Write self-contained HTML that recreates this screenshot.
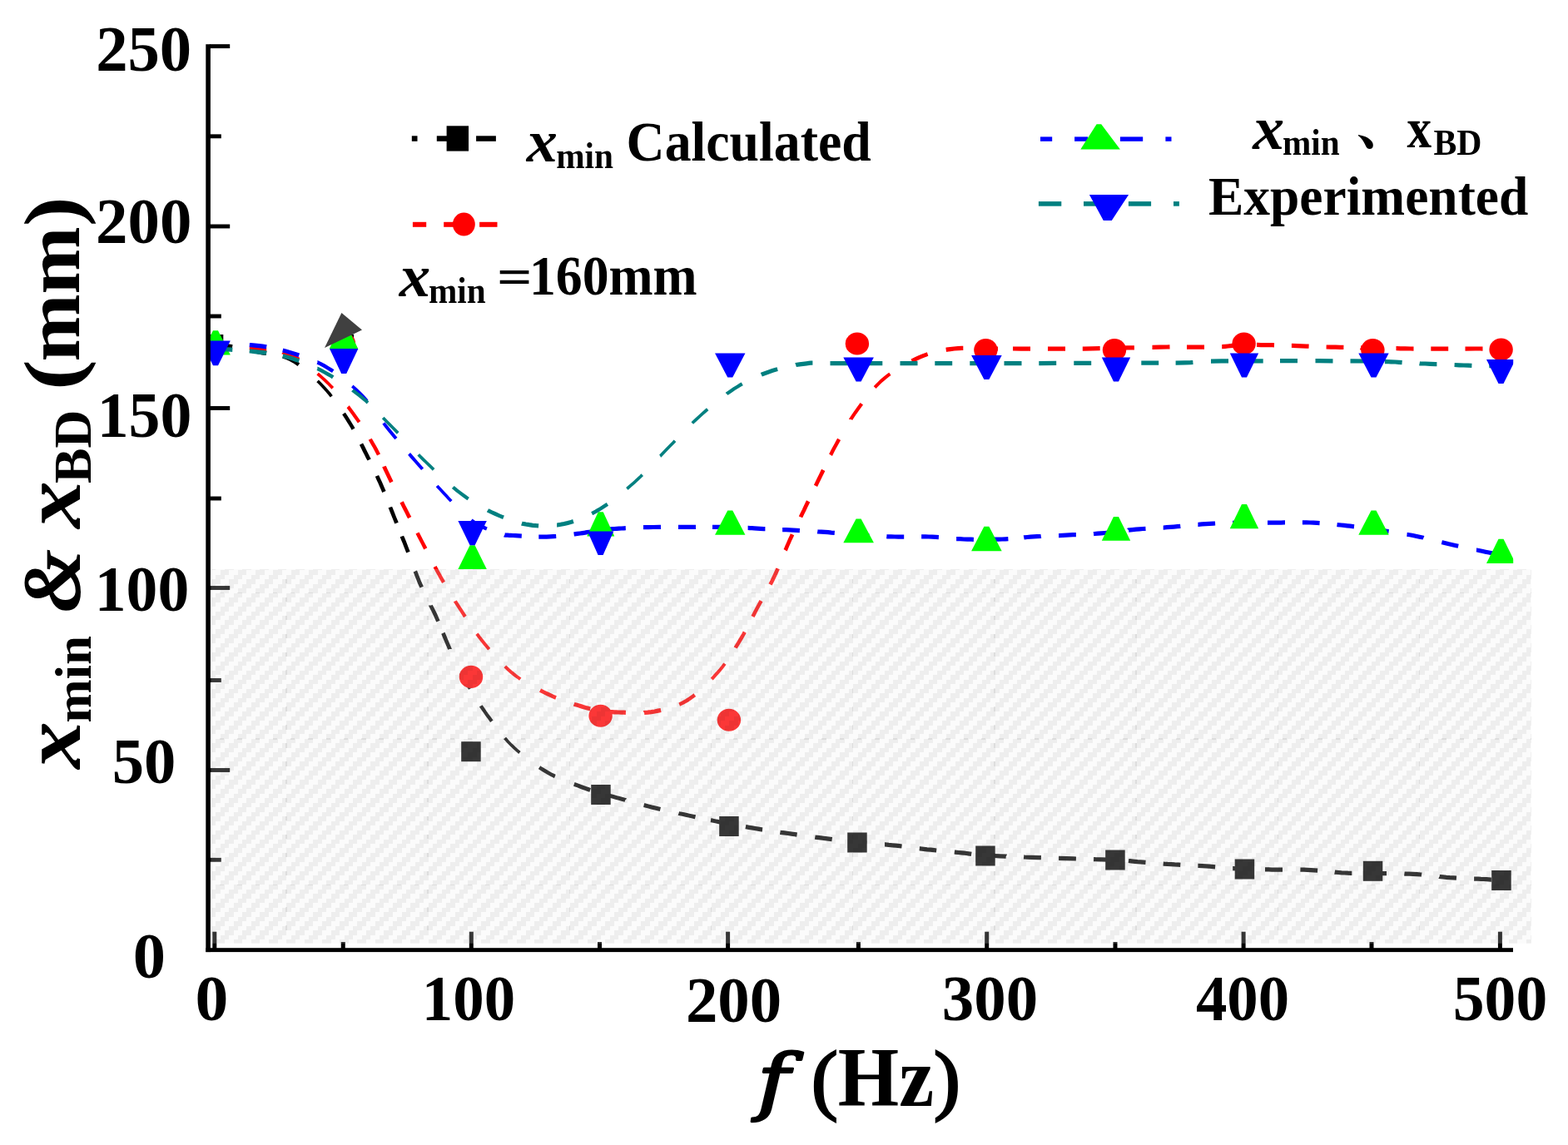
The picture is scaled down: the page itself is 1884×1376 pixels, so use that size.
<!DOCTYPE html>
<html lang="en"><head><meta charset="utf-8"><title>x min and x BD versus f</title>
<style>
html,body{margin:0;padding:0;background:#fff;}
body{width:1884px;height:1376px;overflow:hidden;}
svg{display:block;}
svg text{font-family:'Liberation Serif','Noto Serif CJK SC',serif;fill:#000;white-space:pre;}
</style></head><body>
<svg width="1884" height="1376" viewBox="0 0 1884 1376">
<rect width="1884" height="1376" fill="#fff"/>
<clipPath id="pc"><rect x="249" y="0" width="1569.2" height="1376"/></clipPath>
<g id="series" clip-path="url(#pc)">
<g fill="none" stroke="#000"><path d="M381.6,457.8L382.3,458.5L386.0,462.3L389.5,466.0L392.9,469.7L396.1,473.5L398.3,476.3M606.6,887.0L607.1,887.6L610.6,891.5L614.2,895.2L617.8,898.7L621.7,902.2L624.4,904.5" stroke-width="3.75"/><path d="M577.8,848.3L578.0,848.7L580.3,852.0L582.6,855.4L585.1,858.9L587.8,862.5L590.6,866.4L590.9,866.8" stroke-width="4.25"/><path d="M340.1,428.4L340.7,428.7L344.9,430.1L349.0,432.0L353.0,434.2L357.1,436.9L358.9,438.2M413.0,496.9L413.4,497.5L416.0,501.5L418.5,505.5L420.9,509.4L423.3,513.3L424.5,515.6M553.8,808.9L553.9,809.1L555.1,811.3L556.2,813.3L557.2,815.0L558.2,816.7L559.2,818.3L560.2,820.0L561.3,821.7L562.6,823.6L563.9,825.7L565.0,827.6M648.1,922.2L649.0,922.8L653.3,925.5L657.5,928.0L661.8,930.4L666.2,932.6L666.9,932.9" stroke-width="4.5"/><path d="M434.0,533.6L434.1,533.8L436.1,537.7L438.0,541.6L440.0,545.5L441.9,549.3L443.6,552.5M453.0,571.9L453.2,572.4L454.9,576.2L456.7,580.1L458.4,584.0L460.1,587.9L461.4,591.0M468.9,609.5L469.0,609.8L470.5,613.7L472.1,617.7L473.6,621.5L475.2,625.4L476.5,628.7M482.9,644.5L483.0,644.8L484.5,648.5L486.0,652.2L487.5,656.1L489.0,660.0L490.4,663.7M498.8,686.5L499.2,687.4L500.8,691.7L502.5,695.9L504.1,700.0L505.9,704.0L506.6,705.7M517.5,727.6L517.5,727.7L519.4,731.5L521.3,735.2L523.1,739.0L524.8,742.9L526.4,746.6M532.4,760.8L532.5,761.0L534.1,765.0L535.7,768.9L537.3,772.7L538.9,776.4L540.4,779.9L540.4,780.0" stroke-width="4.75"/><path d="M300.0,420.9L300.2,420.9L302.7,421.4L305.4,422.0L308.4,422.6L311.7,423.3L315.2,424.0L319.0,424.5L320.0,424.6M689.8,942.4L690.4,942.6L694.3,944.0L697.8,945.4L701.1,946.6L704.0,947.7L706.5,948.5L708.9,949.3L709.2,949.4M731.7,955.9L732.0,956.0L733.9,956.6L736.0,957.2L738.4,957.8L741.0,958.6L744.1,959.4L747.5,960.4L751.2,961.4L751.3,961.5M773.6,967.6L774.5,967.8L778.8,968.9L783.0,970.0L787.2,971.0L791.4,972.0L793.4,972.5M815.5,977.4L816.1,977.6L820.2,978.4L824.1,979.3L827.8,980.1L831.5,980.9L835.1,981.7L835.5,981.8M854.0,985.7L854.7,985.8L857.4,986.4L859.8,986.9L861.9,987.3L863.7,987.7L865.3,988.0L866.8,988.3L868.2,988.6L869.7,988.8L871.4,989.1L873.2,989.5L874.0,989.6" stroke-width="5"/><path d="M259.4,413.6L259.7,413.6L261.5,413.9L263.7,414.3L266.2,414.7L269.0,415.2L271.9,415.7L274.9,416.2L278.0,416.7L279.1,416.9M895.9,993.6L896.4,993.7L899.8,994.3L903.4,994.9L907.0,995.5L910.8,996.1L914.9,996.8L916.1,996.9M937.4,1000.2L938.0,1000.3L942.4,1000.9L946.8,1001.5L951.0,1002.1L955.2,1002.7L957.6,1003.1M979.3,1006.0L979.9,1006.1L984.0,1006.6L988.0,1007.1L992.0,1007.6L995.9,1008.1L999.7,1008.6M1020.8,1011.0L1020.9,1011.0L1024.9,1011.5L1029.0,1011.9L1033.2,1012.3L1037.5,1012.7L1041.2,1013.0M1063.0,1014.9L1063.5,1014.9L1067.9,1015.4L1072.3,1015.8L1076.6,1016.2L1080.9,1016.7L1083.5,1017.0M1104.8,1019.7L1105.7,1019.8L1109.8,1020.3L1113.9,1020.8L1118.1,1021.2L1122.3,1021.7L1125.2,1022.0M1146.8,1024.0L1147.7,1024.1L1151.6,1024.5L1155.3,1024.8L1158.6,1025.2L1161.3,1025.5L1163.6,1025.8L1165.5,1026.1L1167.2,1026.4M1188.1,1028.2L1188.1,1028.2L1194.3,1028.5L1201.2,1028.8L1208.7,1029.1L1208.9,1029.2M1230.1,1029.9L1231.2,1030.0L1239.6,1030.3L1247.9,1030.6L1250.9,1030.7M1272.1,1031.4L1272.3,1031.4L1281.0,1031.7L1289.9,1031.9L1292.9,1032.0M1314.1,1032.6L1315.8,1032.7L1323.7,1032.9L1330.9,1033.2L1334.9,1033.3M1356.0,1034.5L1356.0,1034.5L1357.7,1034.7L1359.4,1034.9L1361.4,1035.1L1363.8,1035.3L1366.8,1035.6L1370.2,1035.8L1373.8,1036.1L1376.5,1036.3M1397.7,1038.0L1398.7,1038.1L1402.9,1038.4L1407.1,1038.6L1411.4,1038.9L1415.8,1039.1L1418.3,1039.3M1439.4,1040.4L1439.8,1040.4L1444.3,1040.6L1448.9,1040.9L1453.4,1041.2L1458.0,1041.6L1460.1,1041.8M1481.2,1043.6L1482.1,1043.6L1486.5,1044.0L1490.8,1044.3L1495.0,1044.5L1499.0,1044.7L1501.8,1044.8M1520.0,1044.9L1520.8,1044.9L1524.4,1044.9L1528.1,1045.0L1532.0,1045.0L1536.0,1045.0L1540.1,1045.1L1541.0,1045.1M1562.4,1045.1L1562.4,1045.1L1566.6,1045.2L1570.9,1045.4L1575.0,1045.6L1579.2,1045.8L1583.1,1046.1M1603.7,1048.1L1604.2,1048.2L1608.2,1048.5L1612.1,1048.8L1615.9,1049.0L1619.6,1049.2L1623.0,1049.3L1624.3,1049.3M1645.0,1049.4L1646.0,1049.4L1650.0,1049.5L1654.4,1049.6L1659.0,1049.6L1663.9,1049.7L1666.0,1049.7M1687.4,1050.0L1688.2,1050.1L1693.1,1050.2L1697.9,1050.4L1702.4,1050.7L1706.8,1051.0L1708.1,1051.2M1729.5,1053.4L1729.7,1053.5L1733.8,1053.9L1737.9,1054.3L1742.0,1054.6L1746.3,1054.8L1750.0,1055.1M1771.1,1056.0L1772.1,1056.0L1776.0,1056.2L1779.5,1056.4L1782.8,1056.5L1785.8,1056.7L1788.7,1056.9L1791.3,1057.1L1791.9,1057.1" stroke-width="5.25"/></g>
<rect x="244.8" y="402.0" width="23.5" height="24" fill="#000"/>
<rect x="401.6" y="401.8" width="23.5" height="24" fill="#000"/>
<rect x="554.2" y="891.2" width="23.5" height="24" fill="#000"/>
<rect x="710.2" y="943.0" width="23.5" height="24" fill="#000"/>
<rect x="864.2" y="981.0" width="23.5" height="24" fill="#000"/>
<rect x="1018.2" y="1000.5" width="23.5" height="24" fill="#000"/>
<rect x="1172.2" y="1016.5" width="23.5" height="24" fill="#000"/>
<rect x="1328.2" y="1021.5" width="23.5" height="24" fill="#000"/>
<rect x="1483.7" y="1032.5" width="23.5" height="24" fill="#000"/>
<rect x="1637.8" y="1034.8" width="23.5" height="24" fill="#000"/>
<rect x="1792.2" y="1046.0" width="23.5" height="24" fill="#000"/>
<g fill="none" stroke="#f00"><path d="M381.6,449.1L382.1,449.5L386.2,453.1L390.1,456.7L393.9,460.3L397.5,464.0L399.8,466.4" stroke-width="3.75"/><path d="M572.9,761.7L573.6,762.6L576.6,766.6L579.7,770.5L582.9,774.5L586.3,778.5L587.7,780.2M606.8,800.9L607.3,801.4L611.1,805.0L615.0,808.4L619.0,811.6L623.0,814.5L625.2,816.1M855.2,816.1L855.3,816.0L858.8,812.2L862.2,808.4L865.4,804.7L868.5,800.9L870.9,797.6M1051.2,465.6L1052.0,464.7L1055.5,461.1L1059.1,457.6L1062.9,454.4L1066.9,451.2L1069.4,449.4" stroke-width="4"/><path d="M418.1,488.8L418.3,489.0L421.3,493.0L424.3,497.0L427.1,500.9L429.9,504.9L431.6,507.3M546.8,722.4L547.0,722.8L549.4,726.4L551.8,730.1L554.3,733.9L556.8,737.8L558.9,741.0M1022.3,503.9L1022.3,503.8L1024.9,499.9L1027.6,495.9L1030.4,492.1L1033.3,488.1L1035.3,485.3" stroke-width="4.25"/><path d="M444.7,527.7L445.0,528.3L447.2,532.2L449.5,536.0L451.6,539.9L453.6,543.8L455.0,546.5M501.5,640.5L501.9,641.3L503.9,645.1L505.9,649.0L508.0,653.0L510.1,657.1L511.3,659.4M522.6,681.0L523.1,682.0L525.4,686.3L527.7,690.4L529.9,694.5L532.2,698.4L533.0,699.8M816.2,846.6L816.9,846.3L821.0,844.3L825.0,842.0L829.0,839.4L833.0,836.5L834.8,835.1M883.7,778.4L883.9,778.0L886.4,774.0L888.8,770.0L891.2,766.0L893.5,762.0L894.8,759.6M904.5,741.0L905.0,740.0L907.0,736.1L909.0,732.3L911.0,728.5L913.0,724.9L914.5,722.1M998.0,546.7L998.5,545.9L1000.4,542.1L1002.4,538.3L1004.5,534.5L1006.6,530.6L1008.1,527.9" stroke-width="4.5"/><path d="M340.0,423.2L340.1,423.3L344.0,424.5L348.0,426.1L352.1,428.0L356.3,430.4L359.0,432.0M461.5,560.4L461.7,561.0L463.5,564.9L465.3,568.7L467.1,572.6L469.0,576.5L470.4,579.4M482.5,603.3L483.0,604.2L485.0,608.2L487.0,612.1L489.0,616.0L490.9,619.8L492.2,622.2M649.0,829.6L649.6,829.9L653.8,832.0L658.0,834.0L662.1,835.9L666.3,837.8L668.0,838.4M925.5,702.4L925.8,701.9L927.7,698.3L929.5,694.5L931.4,690.5L933.3,686.3L934.6,683.4M943.6,661.3L943.9,660.8L945.7,656.4L947.6,652.1L949.4,647.9L951.3,643.9L952.0,642.3M962.0,621.4L962.3,620.7L964.2,616.8L966.1,613.0L967.9,609.0L969.8,605.1L971.1,602.4M980.0,583.9L980.3,583.3L982.2,579.3L984.1,575.4L986.0,571.5L987.9,567.6L989.2,564.9M1095.4,433.7L1095.7,433.6L1100.2,431.5L1104.5,429.5L1108.7,427.8L1112.8,426.2L1114.6,425.6" stroke-width="4.75"/><path d="M689.7,846.1L690.2,846.3L693.9,847.4L697.4,848.5L700.5,849.5L703.4,850.3L706.0,851.0L708.3,851.6L709.3,851.8" stroke-width="5"/><path d="M259.2,415.0L259.7,415.1L263.0,415.3L267.2,415.6L270.8,415.8M299.8,417.9L301.1,418.0L306.4,418.6L311.1,419.1L315.5,419.6L319.7,420.1L320.2,420.1M731.1,855.3L731.5,855.3L733.5,855.5L735.6,855.6L737.9,855.8L740.4,855.9L743.2,856.0L746.4,856.1L749.8,856.2L751.9,856.3M773.9,856.6L774.1,856.5L778.3,856.2L782.5,855.7L786.6,855.0L790.7,854.2L794.1,853.5M1136.7,420.3L1137.4,420.2L1141.8,419.6L1146.5,419.0L1151.2,418.6L1155.7,418.3L1157.3,418.3M1178.0,418.6L1178.8,418.6L1184.6,418.8L1191.0,418.9L1198.1,419.0L1199.0,419.0M1217.0,419.0L1217.0,419.0L1226.6,419.1L1236.7,419.1L1238.0,419.1M1259.0,419.1L1260.5,419.1L1271.2,419.1L1280.0,419.1M1300.8,419.0L1302.5,419.0L1312.8,418.8L1321.7,418.7M1342.1,418.2L1344.6,418.2L1355.1,417.9L1362.9,417.8M1384.5,417.3L1384.9,417.3L1393.8,417.1L1402.0,417.0L1405.5,416.9M1426.0,417.0L1426.5,417.0L1432.6,417.0L1438.3,417.1L1443.8,417.1L1447.0,417.1M1468.2,416.6L1468.4,416.6L1472.0,416.3L1475.3,416.0L1478.4,415.7L1481.5,415.4L1484.6,415.1L1487.8,414.8L1488.8,414.8M1510.0,414.4L1510.7,414.4L1515.1,414.5L1519.7,414.5L1524.3,414.6L1529.0,414.7L1531.0,414.8M1551.9,415.4L1553.0,415.4L1558.5,415.6L1564.1,415.9L1569.7,416.1L1572.6,416.2M1593.6,417.0L1593.6,417.0L1599.1,417.1L1604.7,417.2L1610.3,417.3L1614.4,417.4M1635.0,417.7L1635.2,417.8L1640.7,417.8L1646.0,417.9L1651.3,418.0L1656.0,418.1M1677.5,418.7L1677.6,418.7L1682.6,418.8L1688.2,418.9L1694.6,419.0L1698.5,419.0M1719.3,419.1L1721.6,419.1L1733.2,419.1L1740.2,419.1M1760.5,419.1L1760.7,419.1L1772.5,419.0L1781.5,419.0M1802.0,419.0L1803.0,419.0" stroke-width="5.25"/></g>
<ellipse cx="413" cy="413" rx="14.2" ry="13.6" fill="#f00"/>
<ellipse cx="566" cy="813.4" rx="14.2" ry="13.6" fill="#f00"/>
<ellipse cx="721.6" cy="860.25" rx="14.2" ry="13.6" fill="#f00"/>
<ellipse cx="875.9" cy="865.25" rx="14.2" ry="13.6" fill="#f00"/>
<ellipse cx="1029.9" cy="413" rx="14.2" ry="13.6" fill="#f00"/>
<ellipse cx="1184.4" cy="420.5" rx="14.2" ry="13.6" fill="#f00"/>
<ellipse cx="1339" cy="420.5" rx="14.2" ry="13.6" fill="#f00"/>
<ellipse cx="1494.6" cy="413" rx="14.2" ry="13.6" fill="#f00"/>
<ellipse cx="1649.4" cy="420.5" rx="14.2" ry="13.6" fill="#f00"/>
<ellipse cx="1803.6" cy="420" rx="14.2" ry="13.6" fill="#f00"/>
<g fill="none" stroke="#00f"><path d="M423.3,464.0L424.2,464.8L428.2,468.5L432.1,472.2L435.8,475.9L439.3,479.7L441.0,481.7M525.2,583.8L525.9,584.7L529.4,588.5L532.8,592.2L536.2,595.8L539.5,599.4L542.2,602.3" stroke-width="3.75"/><path d="M460.9,508.5L461.2,508.9L464.4,513.0L467.6,517.0L470.9,521.0L474.2,525.0L475.9,527.0M491.6,545.4L491.8,545.6L495.2,549.6L498.6,553.5L502.1,557.5L505.6,561.5L507.6,563.8" stroke-width="4"/><path d="M381.4,435.4L381.5,435.4L385.7,437.5L389.9,439.8L394.1,442.3L398.4,445.0L400.2,446.2M566.1,625.3L566.2,625.4L569.5,627.7L572.9,629.8L576.5,631.7L580.0,633.4L583.6,635.0L584.9,635.5" stroke-width="4.5"/><path d="M339.7,421.0L340.1,421.1L344.0,422.2L348.0,423.4L352.1,424.6L356.2,425.9L359.3,426.9M1690.5,642.3L1691.5,642.4L1696.5,643.3L1701.1,644.2L1705.6,645.2L1710.0,646.1L1710.5,646.3M1732.3,651.7L1732.7,651.8L1736.8,652.8L1741.0,653.8L1745.2,654.7L1749.6,655.7L1752.2,656.3M1774.0,660.9L1774.1,660.9L1778.0,661.7L1781.6,662.5L1784.8,663.2L1787.6,663.8L1790.2,664.3L1792.6,664.8L1794.0,665.1" stroke-width="5"/><path d="M259.1,413.0L259.7,413.0L263.0,413.2L267.2,413.3L272.2,413.4L273.4,413.4M299.8,414.6L301.1,414.7L306.4,415.1L311.1,415.6L315.5,416.2L319.7,416.8L320.2,416.9M606.2,642.8L606.4,642.9L607.6,643.1L608.8,643.2L610.2,643.2L611.8,643.3L613.8,643.3L616.3,643.5L619.4,643.7L622.9,643.9L626.8,644.1M647.3,645.0L648.2,645.0L652.7,645.1L657.0,645.1L661.0,644.9L665.0,644.7L668.2,644.5M689.6,642.0L690.3,641.9L693.7,641.4L697.0,641.0L700.0,640.6L702.8,640.2L705.5,639.7L708.0,639.3L709.9,639.0M731.2,636.0L731.5,636.0L733.7,635.8L735.9,635.6L738.3,635.5L740.9,635.3L743.7,635.1L746.8,635.0L749.8,634.8L751.8,634.7M773.0,633.7L773.6,633.7L778.9,633.6L785.0,633.5L792.3,633.4L794.0,633.4M815.0,633.3L815.7,633.3L826.2,633.3L836.0,633.3M856.0,633.4L857.0,633.4L866.0,633.4L873.7,633.5L877.0,633.5M898.6,634.4L898.8,634.4L900.9,634.6L903.3,634.7L906.3,634.9L909.9,635.1L913.7,635.3L917.7,635.5L919.4,635.5M940.1,636.5L940.3,636.5L944.7,636.7L948.9,636.9L953.2,637.2L957.4,637.4L960.9,637.6M982.2,638.8L982.8,638.9L986.9,639.1L991.0,639.4L995.0,639.7L998.9,640.1L1002.8,640.4M1023.7,642.4L1023.9,642.5L1027.9,642.8L1032.0,643.1L1036.3,643.3L1040.6,643.6L1044.3,643.8M1065.3,644.7L1066.2,644.8L1070.7,644.9L1075.0,645.0L1079.3,645.1L1083.5,645.1L1086.2,645.1M1107.1,644.8L1107.6,644.8L1111.8,644.9L1116.0,645.0L1120.1,645.1L1124.3,645.4L1127.9,645.6M1149.1,647.5L1149.3,647.5L1153.6,647.7L1157.9,648.0L1162.3,648.1L1166.8,648.2L1169.9,648.3M1190.6,648.3L1191.0,648.3L1195.5,648.2L1199.8,648.1L1204.0,648.0L1208.0,647.8L1211.4,647.6M1230.2,645.9L1230.7,645.8L1234.3,645.5L1238.1,645.2L1242.0,644.9L1246.0,644.7L1250.2,644.5L1250.8,644.4M1272.1,643.5L1272.6,643.5L1276.8,643.3L1281.0,643.1L1285.0,642.9L1289.0,642.7L1292.8,642.6L1292.9,642.6M1314.0,641.6L1314.9,641.5L1318.9,641.2L1323.1,640.9L1327.4,640.5L1331.9,640.0L1334.5,639.7M1356.0,637.2L1356.1,637.1L1360.6,636.6L1364.9,636.2L1369.0,635.8L1373.0,635.5L1376.5,635.3M1397.7,634.0L1398.0,634.0L1401.9,633.7L1406.0,633.4L1410.3,633.1L1414.7,632.7L1418.3,632.3M1439.4,630.3L1439.7,630.3L1444.3,629.9L1448.9,629.6L1453.4,629.3L1458.0,629.1L1460.1,629.0M1481.0,628.3L1482.0,628.3L1486.4,628.2L1490.8,628.1L1495.0,628.0L1499.1,627.9L1502.0,627.9M1523.0,628.0L1523.4,628.0L1527.2,628.0L1531.0,628.0L1535.0,628.0L1539.1,628.0L1543.2,627.9L1544.0,627.9M1564.9,627.8L1565.5,627.8L1569.8,627.8L1574.0,628.0L1578.1,628.1L1582.3,628.4L1585.6,628.6M1606.5,630.5L1607.3,630.6L1611.2,631.0L1615.1,631.4L1618.7,631.8L1622.2,632.2L1625.4,632.6L1627.0,632.8M1648.4,635.8L1649.0,635.8L1653.3,636.5L1657.9,637.2L1662.8,637.9L1667.9,638.7L1668.6,638.8" stroke-width="5.25"/></g>
<path d="M256.0,397.2H262.0L276.8,426.5H241.2Z" fill="#0f0"/>
<path d="M410.0,390H416.0L430.2,419.1H395.8Z" fill="#0f0"/>
<path d="M564.6,655.25H570.6L584.8000000000001,684H550.4Z" fill="#0f0"/>
<path d="M718.75,615.25H724.75L738.25,644.5H705.25Z" fill="#0f0"/>
<path d="M874.25,613.5H880.25L895.45,642.75H859.05Z" fill="#0f0"/>
<path d="M1028.6,623.5H1034.6L1049.8999999999999,652.25H1013.3Z" fill="#0f0"/>
<path d="M1182.4,632.75H1188.4L1203.7,662.25H1167.1000000000001Z" fill="#0f0"/>
<path d="M1338.0,621H1344.0L1358.2,649.75H1323.8Z" fill="#0f0"/>
<path d="M1492.0,606H1498.0L1512.2,635.25H1477.8Z" fill="#0f0"/>
<path d="M1647.5,613.5H1653.5L1668.7,642.75H1632.3Z" fill="#0f0"/>
<path d="M1800.5,647.75H1806.5L1821.0,677H1786.0Z" fill="#0f0"/>
<g fill="none" stroke="#008080"><path d="M460.3,502.0L460.7,502.5L464.3,506.2L468.1,510.1L472.0,514.0L476.0,518.1L478.2,520.4M502.8,546.3L503.4,547.0L507.7,551.3L512.0,555.5L516.3,559.6L520.6,563.8L521.1,564.3M753.3,587.4L753.8,587.0L757.9,583.4L762.0,579.8L766.0,576.2L769.9,572.5L771.7,570.7M793.2,548.1L793.4,548.0L797.2,544.0L801.0,540.0L804.9,536.0L808.9,532.0L811.0,529.7M831.8,508.5L831.8,508.5L835.9,504.6L840.0,500.8L844.1,497.2L848.2,493.5L850.2,491.8" stroke-width="3.75"/><path d="M423.6,468.9L423.9,469.2L428.0,472.3L432.0,475.4L435.9,478.6L439.7,481.8L442.0,483.9" stroke-width="4"/><path d="M544.3,585.4L544.4,585.5L548.6,589.1L552.9,592.4L557.1,595.5L561.2,598.5L562.7,599.5M873.2,473.4L873.5,473.1L877.7,470.2L881.9,467.3L886.1,464.7L890.2,462.2L891.8,461.3" stroke-width="4.25"/><path d="M381.4,443.0L381.5,443.0L385.7,445.1L389.9,447.4L394.1,449.7L398.4,452.1L400.2,453.3M711.1,617.1L711.5,616.9L715.7,614.7L719.9,612.3L724.1,609.7L728.3,606.9L729.9,605.9" stroke-width="4.5"/><path d="M586.0,613.2L586.7,613.6L590.8,615.6L595.0,617.5L599.1,619.4L603.3,621.1L605.0,621.8" stroke-width="4.75"/><path d="M339.7,427.7L340.1,427.8L344.0,428.8L348.0,429.9L352.1,431.2L356.2,432.5L359.3,433.6M669.1,631.0L669.5,631.0L673.7,630.3L677.9,629.5L682.1,628.5L686.3,627.3L688.9,626.5M914.8,450.3L915.7,449.9L919.8,448.4L924.0,446.9L928.1,445.4L932.3,444.1L934.2,443.6" stroke-width="5"/><path d="M259.2,419.0L259.7,419.1L263.0,419.3L267.2,419.6L272.2,419.9L277.7,420.2L279.3,420.3M299.8,421.9L301.1,422.0L306.4,422.6L311.1,423.1L315.5,423.7L319.7,424.2L320.2,424.3M626.9,628.9L627.5,629.1L631.7,630.0L635.9,630.7L640.1,631.3L644.3,631.7L647.1,631.9M956.1,438.6L956.4,438.5L960.6,437.8L964.9,437.3L969.0,436.8L972.0,436.4L974.2,436.2L976.1,436.1L976.4,436.1M997.5,436.5L997.6,436.5L1007.2,436.5L1018.5,436.5M1039.3,436.5L1042.4,436.5L1060.0,436.5L1060.3,436.5M1081.5,436.5L1084.2,436.5L1102.5,436.5M1123.3,436.5L1125.9,436.5L1144.2,436.5M1165.3,436.5L1168.8,436.5L1186.2,436.5M1206.5,436.5L1210.3,436.5L1227.5,436.5M1248.3,436.5L1249.7,436.5L1269.2,436.4M1290.3,436.4L1291.6,436.4L1311.2,436.4M1332.0,436.3L1333.1,436.3L1353.0,436.3M1371.3,436.2L1376.0,436.2L1392.2,436.1M1412.6,436.0L1413.0,436.0L1423.7,435.9L1430.6,435.7L1433.4,435.5M1455.0,434.0L1455.3,434.0L1467.6,433.9L1476.0,433.9M1496.8,433.8L1501.5,433.8L1517.7,433.8M1538.0,433.7L1542.7,433.7L1559.0,433.7M1580.5,433.7L1585.0,433.7L1601.5,433.8M1622.5,433.9L1626.1,433.9L1640.0,434.0L1643.5,434.0M1663.9,434.5L1665.3,434.5L1671.4,434.8L1676.5,435.0L1680.8,435.3L1684.6,435.6M1705.6,436.7L1706.1,436.8L1712.3,437.0L1718.5,437.3L1724.8,437.6L1726.4,437.6M1747.6,438.5L1747.6,438.5L1753.3,438.8L1758.7,439.0L1763.9,439.1L1768.4,439.3M1789.3,439.7L1789.7,439.7L1793.8,439.8L1797.4,439.9L1800.5,439.9L1803.0,440.0" stroke-width="5.25"/></g>
<path d="M241.2,409.5H276.8L262.0,439.2H256.0Z" fill="#00f"/>
<path d="M396.0,419.1H430.4L416.2,449H410.2Z" fill="#00f"/>
<path d="M550.4,626H584.8000000000001L570.6,655.25H564.6Z" fill="#00f"/>
<path d="M705.9,638.5H737.3000000000001L724.6,667H718.6Z" fill="#00f"/>
<path d="M859.05,424.5H895.45L880.25,453.5H874.25Z" fill="#00f"/>
<path d="M1013.3,429.5H1049.8999999999999L1034.6,458.5H1028.6Z" fill="#00f"/>
<path d="M1167.1000000000001,427H1203.7L1188.4,456H1182.4Z" fill="#00f"/>
<path d="M1323.8,429.5H1358.2L1344.0,458.5H1338.0Z" fill="#00f"/>
<path d="M1477.8,424.5H1512.2L1498.0,453.5H1492.0Z" fill="#00f"/>
<path d="M1632.3,424.5H1668.7L1653.5,453.5H1647.5Z" fill="#00f"/>
<path d="M1786.0,432H1821.0L1806.5,461H1800.5Z" fill="#00f"/></g>
<path d="M410.4,375.9L435,396.6L390,417.9Z" fill="#404040"/>
<g id="ticks"><rect x="251.9" y="53.15" width="24.30" height="4.9" fill="#000"/>
<rect x="251.9" y="161.35" width="13.90" height="4.9" fill="#000"/>
<rect x="251.9" y="269.55" width="24.30" height="4.9" fill="#000"/>
<rect x="251.9" y="377.55" width="13.90" height="4.9" fill="#000"/>
<rect x="251.9" y="488.05" width="24.30" height="4.9" fill="#000"/>
<rect x="251.9" y="596.55" width="13.90" height="4.9" fill="#000"/>
<rect x="251.9" y="704.05" width="24.30" height="4.9" fill="#000"/>
<rect x="251.9" y="815.05" width="13.90" height="4.9" fill="#000"/>
<rect x="251.9" y="923.05" width="24.30" height="4.9" fill="#000"/>
<rect x="251.9" y="1030.85" width="13.90" height="4.9" fill="#000"/>
<rect x="255.30" y="1119.7" width="5" height="20.50" fill="#000"/>
<rect x="409.75" y="1132.0" width="5" height="8.20" fill="#000"/>
<rect x="563.80" y="1119.7" width="5" height="20.50" fill="#000"/>
<rect x="718.00" y="1132.0" width="5" height="8.20" fill="#000"/>
<rect x="872.10" y="1119.7" width="5" height="20.50" fill="#000"/>
<rect x="1028.90" y="1132.0" width="5" height="8.20" fill="#000"/>
<rect x="1183.20" y="1119.7" width="5" height="20.50" fill="#000"/>
<rect x="1337.50" y="1132.0" width="5" height="8.20" fill="#000"/>
<rect x="1491.60" y="1119.7" width="5" height="20.50" fill="#000"/>
<rect x="1645.50" y="1132.0" width="5" height="8.20" fill="#000"/>
<rect x="1799.90" y="1119.7" width="5" height="20.50" fill="#000"/></g>
<g id="overlay"><clipPath id="gc"><rect x="253.4" y="684.0" width="1586.5" height="449.8"/></clipPath>
<g clip-path="url(#gc)" shape-rendering="crispEdges">
<rect x="253.4" y="684.0" width="1586.5" height="449.8" fill="rgb(238,238,238)" fill-opacity="0.23"/>
<g stroke="#000" stroke-opacity="0.05" stroke-width="5.48" stroke-dasharray="10.64 10.64">
<path d="M227.32,682.46H1869.9"/>
<path d="M222.00,687.94H1869.9"/>
<path d="M216.68,693.42H1869.9"/>
<path d="M211.36,698.90H1869.9"/>
<path d="M227.32,704.38H1869.9"/>
<path d="M222.00,709.86H1869.9"/>
<path d="M216.68,715.34H1869.9"/>
<path d="M211.36,720.82H1869.9"/>
<path d="M227.32,726.30H1869.9"/>
<path d="M222.00,731.78H1869.9"/>
<path d="M216.68,737.26H1869.9"/>
<path d="M211.36,742.74H1869.9"/>
<path d="M227.32,748.22H1869.9"/>
<path d="M222.00,753.70H1869.9"/>
<path d="M216.68,759.18H1869.9"/>
<path d="M211.36,764.66H1869.9"/>
<path d="M227.32,770.14H1869.9"/>
<path d="M222.00,775.62H1869.9"/>
<path d="M216.68,781.10H1869.9"/>
<path d="M211.36,786.58H1869.9"/>
<path d="M227.32,792.06H1869.9"/>
<path d="M222.00,797.54H1869.9"/>
<path d="M216.68,803.02H1869.9"/>
<path d="M211.36,808.50H1869.9"/>
<path d="M227.32,813.98H1869.9"/>
<path d="M222.00,819.46H1869.9"/>
<path d="M216.68,824.94H1869.9"/>
<path d="M211.36,830.42H1869.9"/>
<path d="M227.32,835.90H1869.9"/>
<path d="M222.00,841.38H1869.9"/>
<path d="M216.68,846.86H1869.9"/>
<path d="M211.36,852.34H1869.9"/>
<path d="M227.32,857.82H1869.9"/>
<path d="M222.00,863.30H1869.9"/>
<path d="M216.68,868.78H1869.9"/>
<path d="M211.36,874.26H1869.9"/>
<path d="M227.32,879.74H1869.9"/>
<path d="M222.00,885.22H1869.9"/>
<path d="M216.68,890.70H1869.9"/>
<path d="M211.36,896.18H1869.9"/>
<path d="M227.32,901.66H1869.9"/>
<path d="M222.00,907.14H1869.9"/>
<path d="M216.68,912.62H1869.9"/>
<path d="M211.36,918.10H1869.9"/>
<path d="M227.32,923.58H1869.9"/>
<path d="M222.00,929.06H1869.9"/>
<path d="M216.68,934.54H1869.9"/>
<path d="M211.36,940.02H1869.9"/>
<path d="M227.32,945.50H1869.9"/>
<path d="M222.00,950.98H1869.9"/>
<path d="M216.68,956.46H1869.9"/>
<path d="M211.36,961.94H1869.9"/>
<path d="M227.32,967.42H1869.9"/>
<path d="M222.00,972.90H1869.9"/>
<path d="M216.68,978.38H1869.9"/>
<path d="M211.36,983.86H1869.9"/>
<path d="M227.32,989.34H1869.9"/>
<path d="M222.00,994.82H1869.9"/>
<path d="M216.68,1000.30H1869.9"/>
<path d="M211.36,1005.78H1869.9"/>
<path d="M227.32,1011.26H1869.9"/>
<path d="M222.00,1016.74H1869.9"/>
<path d="M216.68,1022.22H1869.9"/>
<path d="M211.36,1027.70H1869.9"/>
<path d="M227.32,1033.18H1869.9"/>
<path d="M222.00,1038.66H1869.9"/>
<path d="M216.68,1044.14H1869.9"/>
<path d="M211.36,1049.62H1869.9"/>
<path d="M227.32,1055.10H1869.9"/>
<path d="M222.00,1060.58H1869.9"/>
<path d="M216.68,1066.06H1869.9"/>
<path d="M211.36,1071.54H1869.9"/>
<path d="M227.32,1077.02H1869.9"/>
<path d="M222.00,1082.50H1869.9"/>
<path d="M216.68,1087.98H1869.9"/>
<path d="M211.36,1093.46H1869.9"/>
<path d="M227.32,1098.94H1869.9"/>
<path d="M222.00,1104.42H1869.9"/>
<path d="M216.68,1109.90H1869.9"/>
<path d="M211.36,1115.38H1869.9"/>
<path d="M227.32,1120.86H1869.9"/>
<path d="M222.00,1126.34H1869.9"/>
<path d="M216.68,1131.82H1869.9"/>
</g>
<g stroke="#000" stroke-opacity="0.07" stroke-width="1.4" fill="none">
<path d="M343.8,542.42V1133.8" stroke-dasharray="5.48 16.44"/>
<path d="M514.0,542.42V1133.8" stroke-dasharray="5.48 16.44"/>
<path d="M684.2,542.42V1133.8" stroke-dasharray="5.48 16.44"/>
<path d="M854.4,542.42V1133.8" stroke-dasharray="5.48 16.44"/>
<path d="M1024.6,542.42V1133.8" stroke-dasharray="5.48 16.44"/>
<path d="M1194.8,542.42V1133.8" stroke-dasharray="5.48 16.44"/>
<path d="M1365.1,542.42V1133.8" stroke-dasharray="5.48 16.44"/>
<path d="M1535.3,542.42V1133.8" stroke-dasharray="5.48 16.44"/>
<path d="M1705.5,542.42V1133.8" stroke-dasharray="5.48 16.44"/>
<path d="M178.83,712.3H1839.9" stroke-dasharray="5.32 15.96"/>
<path d="M178.83,888.0H1839.9" stroke-dasharray="5.32 15.96"/>
<path d="M178.83,1063.3H1839.9" stroke-dasharray="5.32 15.96"/>
</g></g></g>
<g id="axes"><rect x="247.3" y="53.2" width="5.60" height="1090.90" fill="#000"/>
<rect x="247.3" y="1139.2" width="1570.70" height="4.90" fill="#000"/></g>
<g id="legend"><g fill="#000"><rect x="494.8" y="163.3" width="6.7" height="6.5"/><rect x="524.8" y="163.3" width="14" height="6.5"/><rect x="572.1" y="163.3" width="23.8" height="6.5"/><rect x="536.6" y="151.3" width="26.45" height="30.3"/></g>
<g fill="#f00"><rect x="495.9" y="266.8" width="16.3" height="6"/><rect x="533.2" y="266.8" width="14" height="6"/><rect x="576.1" y="266.8" width="21.4" height="6"/><ellipse cx="557.35" cy="269.55" rx="13.45" ry="13.95"/></g>
<g fill="#00f"><rect x="1250" y="164.4" width="14.2" height="5.4"/><rect x="1291.1" y="164.4" width="16" height="5.4"/><rect x="1345.9" y="164.4" width="27.3" height="5.4"/><rect x="1400.4" y="164.4" width="7.1" height="5.4"/></g>
<path d="M1317.6,149.3H1323.2L1345.9,179.5H1298.3Z" fill="#0f0"/>
<g fill="#008080"><rect x="1247.9" y="242.1" width="27.4" height="5.6"/><rect x="1302" y="242.1" width="16" height="5.6"/><rect x="1355.9" y="242.1" width="27.2" height="5.6"/><rect x="1410" y="242.1" width="6.9" height="5.6"/></g>
<path d="M1308.9,234H1356.1L1335.8,264.9H1325.8Z" fill="#00f"/></g>
<g id="labels"><text transform="translate(115.13,85.21) scale(0.9749,1)" style="font-weight:bold;font-size:78.67px">250</text>
<text transform="translate(115.02,292.11) scale(0.9776,1)" style="font-weight:bold;font-size:78.67px">200</text>
<text transform="translate(116.64,525.31) scale(0.9563,1)" style="font-weight:bold;font-size:79.26px">150</text>
<text transform="translate(113.75,734.11) scale(0.9599,1)" style="font-weight:bold;font-size:78.81px">100</text>
<text transform="translate(134.63,941.41) scale(0.9705,1)" style="font-weight:bold;font-size:78.96px">50</text>
<text transform="translate(159.86,1175.41) scale(0.9950,1)" style="font-weight:bold;font-size:78.96px">0</text>
<text transform="translate(234.51,1226.41) scale(1.0101,1)" style="font-weight:bold;font-size:78.96px">0</text>
<text transform="translate(506.81,1226.31) scale(0.9507,1)" style="font-weight:bold;font-size:78.81px">100</text>
<text transform="translate(823.92,1228.21) scale(0.9739,1)" style="font-weight:bold;font-size:78.96px">200</text>
<text transform="translate(1131.72,1226.31) scale(0.9766,1)" style="font-weight:bold;font-size:78.81px">300</text>
<text transform="translate(1436.88,1226.31) scale(0.9501,1)" style="font-weight:bold;font-size:78.81px">400</text>
<text transform="translate(1745.77,1226.31) scale(0.9596,1)" style="font-weight:bold;font-size:78.81px">500</text>
<text transform="translate(909.76,1330.37) scale(1.1977,1)" style="font-style:italic;stroke:#000;stroke-width:0.03em;stroke-linejoin:round;font-family:'DejaVu Serif','Liberation Serif',serif;font-size:88.60px">f</text>
<text transform="translate(975.05,1328.13) scale(1.0312,1)" style="stroke:#000;stroke-width:0.028em;font-size:92.21px">(</text>
<text transform="translate(1006.78,1329.10) scale(0.9357,1)" style="font-weight:bold;font-size:100.92px">Hz</text>
<text transform="translate(1122.09,1328.13) scale(1.0350,1)" style="stroke:#000;stroke-width:0.028em;font-size:92.21px">)</text>
<text transform="translate(96.00,923.86) rotate(-90) scale(1.1462,1)" style="font-weight:bold;font-style:italic;font-size:99.12px">x</text>
<text transform="translate(109.20,868.87) rotate(-90) scale(1.0293,1)" style="font-weight:bold;font-size:61.16px">min</text>
<text transform="translate(95.01,736.36) rotate(-90) scale(1.0001,1)" style="font-weight:bold;font-style:italic;font-size:98.51px">&amp;</text>
<text transform="translate(96.00,634.87) rotate(-90) scale(1.1441,1)" style="font-weight:bold;font-style:italic;font-size:99.12px">x</text>
<text transform="translate(109.20,581.05) rotate(-90) scale(1.0115,1)" style="font-weight:bold;font-size:62.90px">BD</text>
<text transform="translate(95.01,469.08) rotate(-90) scale(1.1737,1)" style="font-weight:bold;font-size:94.22px">(</text>
<text transform="translate(94.90,434.53) rotate(-90) scale(1.0399,1)" style="font-weight:bold;font-size:93.62px">mm</text>
<text transform="translate(95.01,272.15) rotate(-90) scale(1.1511,1)" style="font-weight:bold;font-size:94.22px">)</text>
<text transform="translate(632.64,193.90) scale(1.0203,1)" style="font-weight:bold;font-style:italic;font-size:72.75px">x</text>
<text transform="translate(668.17,202.40) scale(0.9372,1)" style="font-weight:bold;font-size:44.06px">min</text>
<text transform="translate(752.61,192.83) scale(0.9584,1)" style="font-weight:bold;font-size:66.57px">Calculated</text>
<text transform="translate(479.85,355.60) scale(1.0414,1)" style="font-weight:bold;font-style:italic;font-size:71.87px">x</text>
<text transform="translate(514.97,364.00) scale(0.9483,1)" style="font-weight:bold;font-size:43.48px">min</text>
<text transform="translate(596.97,352.03) scale(1.2515,1)" style="font-weight:bold;font-size:59.63px">=</text>
<text transform="translate(635.90,354.22) scale(0.9334,1)" style="font-weight:bold;font-size:68.30px">160mm</text>
<text transform="translate(1505.36,179.10) scale(1.0306,1)" style="font-weight:bold;font-style:italic;font-size:73.63px">x</text>
<text transform="translate(1541.07,186.20) scale(0.9314,1)" style="font-weight:bold;font-size:44.20px">min</text>
<text transform="translate(1629.38,173.11) scale(1.0022,1)" style="font-weight:bold;font-size:66.15px">、</text>
<text transform="translate(1690.50,177.30) scale(0.8829,1)" style="font-weight:bold;font-size:67.03px">x</text>
<text transform="translate(1722.47,186.20) scale(0.9298,1)" style="font-weight:bold;font-size:44.89px">BD</text>
<text transform="translate(1451.95,258.12) scale(0.9602,1)" style="font-weight:bold;font-size:66.11px">Experimented</text></g>
</svg>
</body></html>
